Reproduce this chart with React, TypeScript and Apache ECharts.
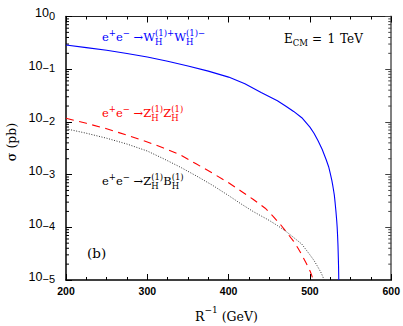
import React, { useEffect, useRef } from "react";
import * as echarts from "echarts";

// ---- data (R^-1 in GeV, sigma in pb) ----
const WW_R = [200, 225, 250, 275, 300, 325, 350, 375, 400, 420, 440, 460, 470, 480, 490, 500, 505, 510, 515, 520, 523, 525, 527, 528, 529, 530, 531, 532, 533, 533.5, 534, 534.5, 535, 535.2, 535.5];
const WW_SIGMA = [0.288, 0.257, 0.229, 0.198, 0.17, 0.142, 0.115, 0.092, 0.0708, 0.053, 0.0363, 0.0251, 0.0201, 0.0158, 0.012, 0.00794, 0.0061, 0.00437, 0.00302, 0.00191, 0.00141, 0.00105, 7.7e-4, 6.3e-4, 5.1e-4, 4.07e-4, 2.9e-4, 2.0e-4, 1.3e-4, 1.0e-4, 7e-5, 4.5e-5, 2.4e-5, 1.8e-5, 1e-5];
const ZZ_R = [200, 225, 250, 275, 300, 320, 340, 360, 380, 400, 415, 430, 445, 455, 465, 472, 480, 485, 490, 495, 500, 502, 504];
const ZZ_SIGMA = [0.0117, 0.0094, 0.00741, 0.0056, 0.00417, 0.0032, 0.0024, 0.0016, 0.00107, 7.0e-4, 4.9e-4, 3.4e-4, 2.3e-4, 1.6e-4, 1.07e-4, 7.8e-5, 5.4e-5, 4.1e-5, 3.0e-5, 2.15e-5, 1.5e-5, 1.25e-5, 1e-5];
const ZB_R = [200, 225, 250, 275, 300, 320, 340, 360, 380, 400, 415, 430, 450, 460, 470, 480, 490, 500, 505, 510, 514, 517.5];
const ZB_SIGMA = [0.0074, 0.0061, 0.0049, 0.0038, 0.0028, 0.002, 0.0014, 9.5e-4, 6.3e-4, 4.0e-4, 2.8e-4, 2.0e-4, 1.35e-4, 1.08e-4, 8.5e-5, 6.4e-5, 4.8e-5, 3.0e-5, 2.35e-5, 1.74e-5, 1.35e-5, 1e-5];

const X_MIN = 200;
const X_MAX = 600;
const X_STEP = 100;
const Y_MIN = 1e-5;
const Y_MAX = 1;
const Y_DECADES = [-5, -4, -3, -2, -1];
const Y_MINOR_FACTORS = [2, 3, 4, 5, 6, 7, 8, 9];

const SERIF = "'DejaVu Serif', 'Liberation Serif', serif";
const SANS = "'Liberation Sans', Arial, Helvetica, sans-serif";

type Seg = { t: string; sup?: string; sub?: string };

let measureCtx: CanvasRenderingContext2D | null = null;
function measure(text: string, size: number): number {
  if (!measureCtx) measureCtx = document.createElement("canvas").getContext("2d");
  if (!measureCtx) return text.length * size * 0.6;
  measureCtx.font = `${size}px ${SERIF}`;
  return measureCtx.measureText(text).width;
}

function txt(text: string, x: number, y: number, size: number, color: string, extra: any = {}) {
  return {
    type: "text",
    x,
    y,
    silent: true,
    ...extra,
    style: { text, fontSize: size, fontFamily: SERIF, fill: color, align: "left", verticalAlign: "middle", ...(extra.style || {}) },
  };
}

function scriptLabel(segs: Seg[], x0: number, baseline: number, color: string, fs: number, sfs: number, supDy: number, subDy: number) {
  const els: any[] = [];
  let x = x0;
  for (const s of segs) {
    els.push(txt(s.t, x, baseline - 0.345 * fs, fs, color));
    x += measure(s.t, fs);
    let w = 0;
    if (s.sup) {
      els.push(txt(s.sup, x, baseline + supDy - 0.345 * sfs, sfs, color));
      w = Math.max(w, measure(s.sup, sfs));
    }
    if (s.sub) {
      els.push(txt(s.sub, x, baseline + subDy - 0.345 * sfs, sfs, color));
      w = Math.max(w, measure(s.sub, sfs));
    }
    x += w;
  }
  return els;
}

function buildMinorTicks(): number[][] {
  const out: number[][] = [];
  for (const d of Y_DECADES) for (const f of Y_MINOR_FACTORS) out.push([X_MIN, f * Math.pow(10, d)]);
  return out;
}

export default function App() {
  const ref = useRef<HTMLDivElement>(null);

  useEffect(() => {
    if (!ref.current) return;
    const chart = echarts.init(ref.current, undefined, { renderer: "svg" });

    const fs = 11.5;
    const sfs = 8.5;
    const blueLabel = scriptLabel(
      [{ t: "e", sup: "+" }, { t: "e", sup: "−" }, { t: " →" }, { t: "W", sup: "(1)+", sub: "H" }, { t: "W", sup: "(1)−", sub: "H" }],
      102, 41, "#0000ff", fs, sfs, -5, 4.3
    );
    const redLabel = scriptLabel(
      [{ t: "e", sup: "+" }, { t: "e", sup: "−" }, { t: " →" }, { t: "Z", sup: "(1)", sub: "H" }, { t: "Z", sup: "(1)", sub: "H" }],
      102, 117, "#ff0000", fs, sfs, -5, 4.3
    );
    const blackLabel = scriptLabel(
      [{ t: "e", sup: "+" }, { t: "e", sup: "−" }, { t: " →" }, { t: "Z", sup: "(1)", sub: "H" }, { t: "B", sup: "(1)", sub: "H" }],
      102, 185, "#000000", fs, sfs, -5, 4.3
    );
    const ecm = [
      ...scriptLabel([{ t: "E", sub: "CM" }], 284, 43.3, "#000", 12, 8.5, 0, 3),
      txt("=", 312, 43.3 - 0.345 * 12, 12, "#000"),
      txt("1", 327.5, 43.3 - 0.345 * 12, 12, "#000"),
      txt("TeV", 340, 43.3 - 0.345 * 12, 12, "#000"),
    ];
    const xName = scriptLabel([{ t: "R", sup: "−1" }, { t: " (GeV)" }], 195, 321, "#000", 12.5, 9, -7.5, 0);
    const yName = txt("σ (pb)", 11, 142, 12.5, "#000", { rotation: Math.PI / 2, style: { align: "center" } });
    const panel = txt("(b)", 87, 258 - 0.345 * 13.5, 13.5, "#000");

    const xAxisCommon = {
      type: "value",
      min: X_MIN,
      max: X_MAX,
      interval: X_STEP,
      splitLine: { show: false },
      axisTick: { show: true, inside: true, length: 6, lineStyle: { color: "#000", width: 1 } },
      minorTick: { show: true, splitNumber: 4, length: 3, lineStyle: { color: "#000", width: 1 } },
    };
    const yAxisCommon = {
      type: "log",
      logBase: 10,
      min: Y_MIN,
      max: Y_MAX,
      interval: 1,
      splitLine: { show: false },
      minorTick: { show: false },
      axisTick: { show: true, inside: true, length: 6, lineStyle: { color: "#000", width: 1 } },
    };

    const lineCommon = { type: "line", showSymbol: false, smooth: false, clip: true, xAxisIndex: 0, yAxisIndex: 0 };

    const option: any = {
      animation: false,
      grid: { left: 66, right: 11, top: 10, bottom: 46, containLabel: false },
      xAxis: [
        {
          ...xAxisCommon,
          position: "bottom",
          axisLine: { show: true, onZero: false, lineStyle: { color: "#000", width: 1.6 } },
          axisLabel: { show: true, margin: 5, fontFamily: SANS, fontSize: 10.5, fontWeight: "bold", color: "#000" },
        },
        {
          ...xAxisCommon,
          position: "top",
          axisLine: { show: true, onZero: false, lineStyle: { color: "#222", width: 1 } },
          axisLabel: { show: false },
        },
      ],
      yAxis: [
        {
          ...yAxisCommon,
          position: "left",
          axisLine: { show: true, onZero: false, lineStyle: { color: "#000", width: 1.5 } },
          axisLabel: {
            show: true,
            margin: 11,
            color: "#000",
            formatter: (v: number) => {
              const e = Math.round(Math.log10(v));
              return `{b|10}{s|${e === 0 ? "0" : "−" + -e}}`;
            },
            rich: {
              b: { fontFamily: SANS, fontSize: 12.5, lineHeight: 13, padding: [6.5, 0, 3.5, 0], verticalAlign: "bottom", color: "#000" },
              s: { fontFamily: SANS, fontSize: 11, lineHeight: 11, verticalAlign: "top", color: "#000" },
            },
          },
        },
        {
          ...yAxisCommon,
          position: "right",
          axisLine: { show: true, onZero: false, lineStyle: { color: "#808080", width: 2 } },
          axisTick: { show: true, inside: true, length: 6, lineStyle: { color: "#444", width: 1 } },
          axisLabel: { show: false },
        },
      ],
      series: [
        {
          type: "custom",
          xAxisIndex: 0,
          yAxisIndex: 0,
          silent: true,
          clip: false,
          data: buildMinorTicks(),
          renderItem: (_p: any, api: any) => {
            const v = api.value(1);
            const l = api.coord([X_MIN, v]);
            const r = api.coord([X_MAX, v]);
            return {
              type: "group",
              children: [
                { type: "line", shape: { x1: l[0], y1: l[1], x2: l[0] + 3, y2: l[1] }, style: { stroke: "#000", lineWidth: 1 } },
                { type: "line", shape: { x1: r[0] - 3, y1: r[1], x2: r[0], y2: r[1] }, style: { stroke: "#444", lineWidth: 1 } },
              ],
            };
          },
        },
        {
          ...lineCommon,
          name: "WW",
          data: WW_R.map((x, i) => [x, WW_SIGMA[i]]),
          lineStyle: { color: "#0000ff", width: 1.1, type: "solid" },
        },
        {
          ...lineCommon,
          name: "ZZ",
          data: ZZ_R.map((x, i) => [x, ZZ_SIGMA[i]]),
          lineStyle: { color: "#ff0000", width: 1.1, type: [8, 5.5] },
        },
        {
          ...lineCommon,
          name: "ZB",
          data: ZB_R.map((x, i) => [x, ZB_SIGMA[i]]),
          lineStyle: { color: "#333", width: 1, type: [1, 1.6] },
        },
      ],
      graphic: [...blueLabel, ...redLabel, ...blackLabel, ...ecm, ...xName, yName, panel],
    };

    chart.setOption(option);
    return () => chart.dispose();
  }, []);

  return <div ref={ref} style={{ position: "fixed", left: 0, top: 0, width: 403, height: 326, background: "#fff" }} />;
}
